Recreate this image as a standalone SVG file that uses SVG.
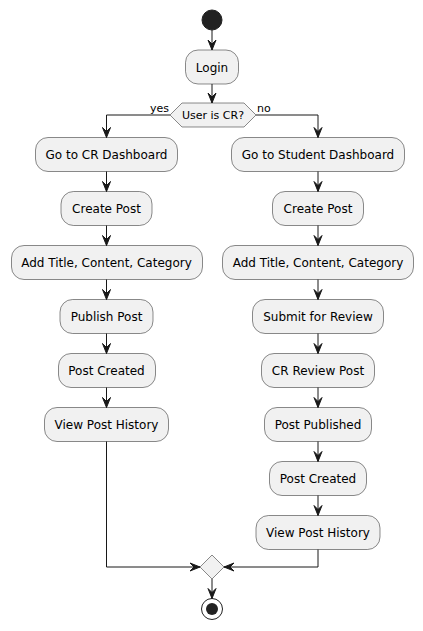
<svg xmlns="http://www.w3.org/2000/svg" width="423" height="631" viewBox="0 0 423 631">
<defs>
<style>
.box{fill:#F1F1F1;stroke:#181818;stroke-width:0.5}
.t{font-family:"DejaVu Sans",sans-serif;font-size:12px;fill:#000000;text-anchor:middle}
.s{font-family:"DejaVu Sans",sans-serif;font-size:11px;fill:#000000}
.ln{fill:none;stroke:#181818;stroke-width:1}
.ah{fill:#181818;stroke:#181818;stroke-width:1}
</style>
</defs>
<rect width="423" height="631" fill="#FFFFFF"/>
<g id="start"><circle cx="212" cy="20" r="10" fill="#222222" stroke="#222222"/></g>
<g id="login"><rect class="box" x="185.5" y="50" width="53" height="34" rx="12.5"/><text class="t" x="212" y="71.5">Login</text></g>
<g id="decision"><polygon class="box" points="170,115 182,103 244,103 256,115 244,127 182,127"/><text class="s" x="213" y="119" text-anchor="middle">User is CR?</text><text class="s" x="150" y="112">yes</text><text class="s" x="257" y="112">no</text></g>
<g id="l1"><rect class="box" x="35.5" y="137.5" width="142" height="34" rx="12.5"/><text class="t" x="106.5" y="159">Go to CR Dashboard</text></g>
<g id="l2"><rect class="box" x="61" y="191.5" width="91" height="34" rx="12.5"/><text class="t" x="106.5" y="213">Create Post</text></g>
<g id="l3"><rect class="box" x="11.5" y="245.5" width="191" height="34" rx="12.5"/><text class="t" x="106.5" y="267">Add Title, Content, Category</text></g>
<g id="l4"><rect class="box" x="60" y="299.5" width="93" height="34" rx="12.5"/><text class="t" x="106.5" y="321">Publish Post</text></g>
<g id="l5"><rect class="box" x="58.5" y="353.5" width="97" height="34" rx="12.5"/><text class="t" x="106.5" y="375">Post Created</text></g>
<g id="l6"><rect class="box" x="44.5" y="407.5" width="124" height="34" rx="12.5"/><text class="t" x="106.5" y="429">View Post History</text></g>
<g id="r1"><rect class="box" x="231.5" y="137.5" width="173" height="34" rx="12.5"/><text class="t" x="318" y="159">Go to Student Dashboard</text></g>
<g id="r2"><rect class="box" x="272.5" y="191.5" width="91" height="34" rx="12.5"/><text class="t" x="318" y="213">Create Post</text></g>
<g id="r3"><rect class="box" x="222.5" y="245.5" width="191" height="34" rx="12.5"/><text class="t" x="318" y="267">Add Title, Content, Category</text></g>
<g id="r4"><rect class="box" x="252.5" y="299.5" width="131" height="34" rx="12.5"/><text class="t" x="318" y="321">Submit for Review</text></g>
<g id="r5"><rect class="box" x="261.5" y="353.5" width="113" height="34" rx="12.5"/><text class="t" x="318" y="375">CR Review Post</text></g>
<g id="r6"><rect class="box" x="264.5" y="407.5" width="107" height="34" rx="12.5"/><text class="t" x="318" y="429">Post Published</text></g>
<g id="r7"><rect class="box" x="269.5" y="461.5" width="97" height="34" rx="12.5"/><text class="t" x="318" y="483">Post Created</text></g>
<g id="r8"><rect class="box" x="256" y="515.5" width="124" height="34" rx="12.5"/><text class="t" x="318" y="537">View Post History</text></g>
<g id="merge"><polygon class="box" points="212,555 224,567 212,579 200,567"/></g>
<g id="end"><circle cx="212" cy="609" r="10.5" fill="none" stroke="#222222" stroke-width="1"/><circle cx="212" cy="609" r="6" fill="#222222"/></g>
<g id="connectors">
<path class="ln" d="M212,30 V50 M212,84 V103"/>
<path class="ln" d="M170,115 H106.5 V137.5 M256,115 H318 V137.5"/>
<path class="ln" d="M106.5,171.5 V191.5 M106.5,225.5 V245.5 M106.5,279.5 V299.5 M106.5,333.5 V353.5 M106.5,387.5 V407.5"/>
<path class="ln" d="M318,171.5 V191.5 M318,225.5 V245.5 M318,279.5 V299.5 M318,333.5 V353.5 M318,387.5 V407.5 M318,441.5 V461.5 M318,495.5 V515.5"/>
<path class="ln" d="M106.5,441.5 V567 H200 M318,549.5 V567 H224 M212,579 V598.5"/>
<polygon class="ah" points="208,40 212,50 216,40 212,44"/>
<polygon class="ah" points="208,93 212,103 216,93 212,97"/>
<g id="arrows-left">
<polygon class="ah" points="102.5,127.5 106.5,137.5 110.5,127.5 106.5,131.5"/>
<polygon class="ah" points="102.5,181.5 106.5,191.5 110.5,181.5 106.5,185.5"/>
<polygon class="ah" points="102.5,235.5 106.5,245.5 110.5,235.5 106.5,239.5"/>
<polygon class="ah" points="102.5,289.5 106.5,299.5 110.5,289.5 106.5,293.5"/>
<polygon class="ah" points="102.5,343.5 106.5,353.5 110.5,343.5 106.5,347.5"/>
<polygon class="ah" points="102.5,397.5 106.5,407.5 110.5,397.5 106.5,401.5"/>
</g>
<g id="arrows-right">
<polygon class="ah" points="314,127.5 318,137.5 322,127.5 318,131.5"/>
<polygon class="ah" points="314,181.5 318,191.5 322,181.5 318,185.5"/>
<polygon class="ah" points="314,235.5 318,245.5 322,235.5 318,239.5"/>
<polygon class="ah" points="314,289.5 318,299.5 322,289.5 318,293.5"/>
<polygon class="ah" points="314,343.5 318,353.5 322,343.5 318,347.5"/>
<polygon class="ah" points="314,397.5 318,407.5 322,397.5 318,401.5"/>
<polygon class="ah" points="314,451.5 318,461.5 322,451.5 318,455.5"/>
<polygon class="ah" points="314,505.5 318,515.5 322,505.5 318,509.5"/>
</g>
<polygon class="ah" points="190,563 200,567 190,571 194,567"/>
<polygon class="ah" points="234,563 224,567 234,571 230,567"/>
<polygon class="ah" points="208,588.5 212,598.5 216,588.5 212,592.5"/>
</g>
</svg>
